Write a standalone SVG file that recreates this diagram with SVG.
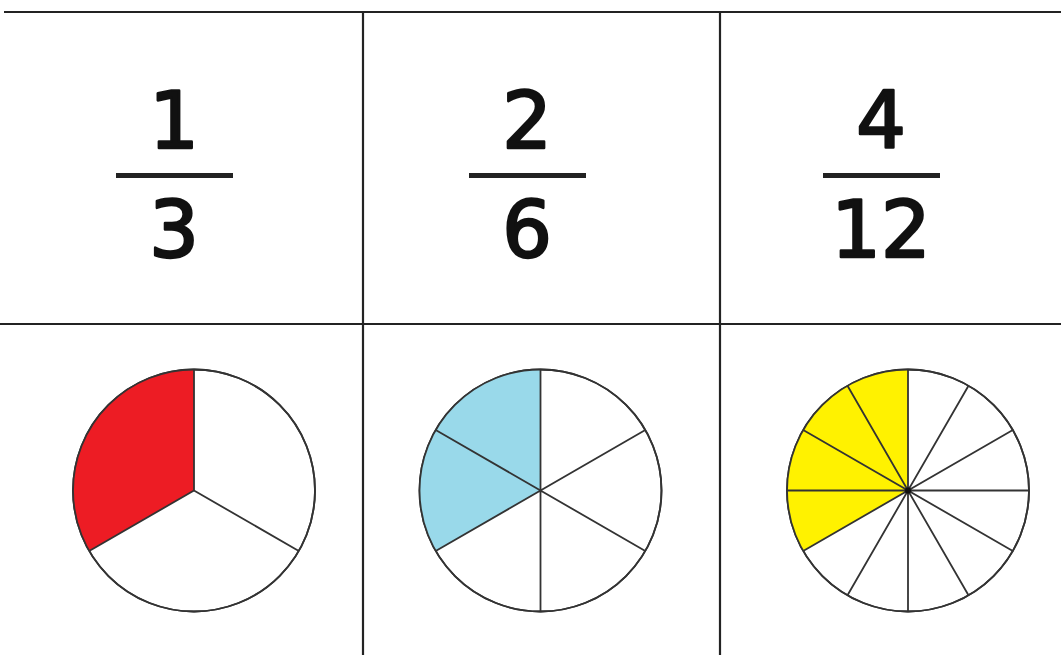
<svg xmlns="http://www.w3.org/2000/svg" width="1061" height="655" viewBox="0 0 1061 655">
<style>
.grid{stroke:#232323;stroke-width:2.2;fill:none}
.num{font-family:"DejaVu Sans",sans-serif;font-weight:normal;font-size:78px;fill:#111;stroke:#111;stroke-width:2.6;stroke-linejoin:round;text-anchor:middle}
.bar{fill:#222}
.rim{fill:#fff;stroke:#333;stroke-width:1.8}
.sp{stroke:#333;stroke-width:1.8;fill:none}
</style>
<rect width="1061" height="655" fill="#fff"/>
<g id="grid">
<line class="grid" x1="4" y1="12" x2="1061" y2="12"/>
<line class="grid" x1="0" y1="324" x2="1061" y2="324"/>
<line class="grid" x1="363" y1="12" x2="363" y2="655"/>
<line class="grid" x1="720" y1="12" x2="720" y2="655"/>
</g>
<g id="frac1">
<text class="num" x="174" y="148">1</text>
<rect class="bar" x="116" y="173" width="117" height="5"/>
<text class="num" x="174" y="257">3</text>
</g>
<g id="frac2">
<text class="num" x="527" y="148">2</text>
<rect class="bar" x="469" y="173" width="117" height="5"/>
<text class="num" x="527" y="257">6</text>
</g>
<g id="frac3">
<text class="num" x="881" y="148">4</text>
<rect class="bar" x="823" y="173" width="117" height="5"/>
<text class="num" x="881" y="257">12</text>
</g>
<g id="pie1">
<circle class="rim" cx="194" cy="490.5" r="121"/>
<path d="M194,490.5 L194,369.5 A121,121 0 0 0 89.2,551 Z" fill="#ed1c24"/>
<circle class="sp" cx="194" cy="490.5" r="121"/>
<path class="sp" d="M194,369.5 L194,490.5 L298.8,551 M194,490.5 L89.2,551"/>
</g>
<g id="pie2">
<circle class="rim" cx="540.5" cy="490.5" r="121"/>
<path d="M540.5,490.5 L540.5,369.5 A121,121 0 0 0 435.7,551 Z" fill="#99d9ea"/>
<circle class="sp" cx="540.5" cy="490.5" r="121"/>
<path class="sp" d="M540.5,369.5 L540.5,611.5 M435.7,430 L645.3,551 M435.7,551 L645.3,430"/>
</g>
<g id="pie3">
<circle class="rim" cx="908" cy="490.5" r="121"/>
<path d="M908,490.5 L908,369.5 A121,121 0 0 0 803.2,551 Z" fill="#fff200"/>
<circle class="sp" cx="908" cy="490.5" r="121"/>
<path class="sp" d="M787,490.5 L1029,490.5 M803.2,430 L1012.8,551 M847.5,385.7 L968.5,595.3 M908,369.5 L908,611.5 M968.5,385.7 L847.5,595.3 M1012.8,430 L803.2,551"/>
<circle cx="908" cy="490.5" r="3" fill="#111"/>
</g>
</svg>
